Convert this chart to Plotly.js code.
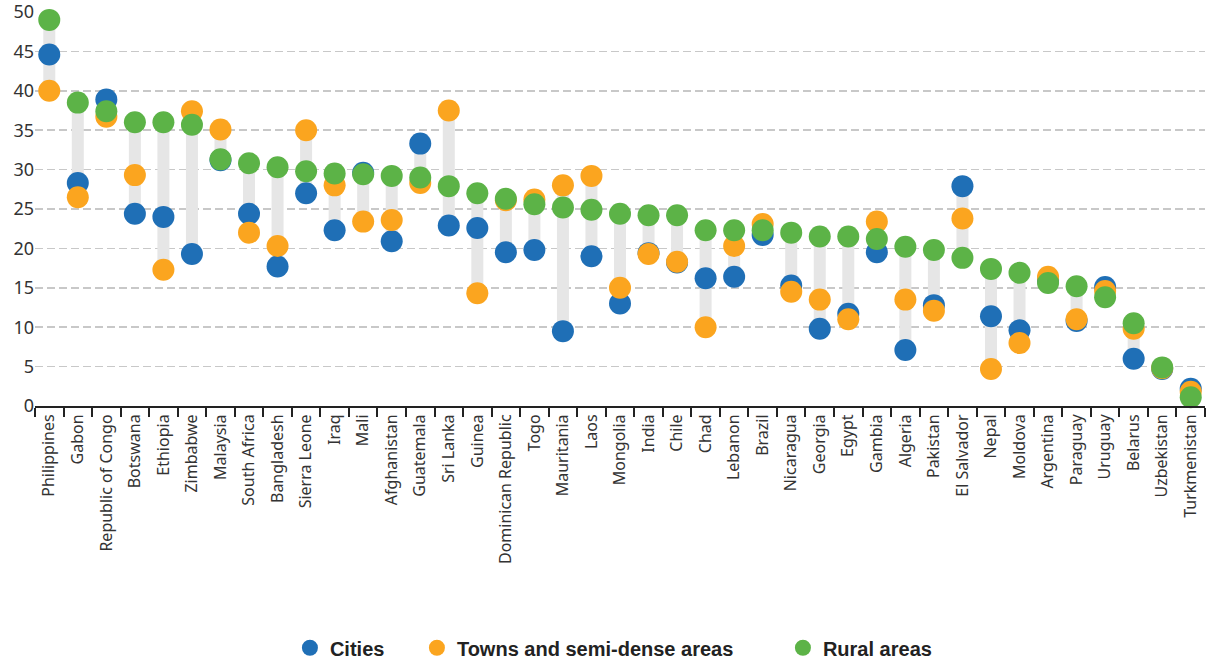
<!DOCTYPE html>
<html>
<head>
<meta charset="utf-8">
<script src="https://cdn.plot.ly/plotly-3.0.1.min.js"></script>
<style>html,body{margin:0;padding:0;background:#fff;}#chart{width:1208px;height:661px;}</style>
</head>
<body>
<div id="chart"></div>
<script>
const countries = ["Philippines","Gabon","Republic of Congo","Botswana","Ethiopia","Zimbabwe","Malaysia","South Africa","Bangladesh","Sierra Leone","Iraq","Mali","Afghanistan","Guatemala","Sri Lanka","Guinea","Dominican Republic","Togo","Mauritania","Laos","Mongolia","India","Chile","Chad","Lebanon","Brazil","Nicaragua","Georgia","Egypt","Gambia","Algeria","Pakistan","El Salvador","Nepal","Moldova","Argentina","Paraguay","Uruguay","Belarus","Uzbekistan","Turkmenistan"];
const cities = [44.6,28.3,38.9,24.4,24.0,19.3,31.2,24.4,17.7,27.0,22.3,29.6,20.9,33.3,22.9,22.6,19.5,19.8,9.5,19.0,13.0,19.4,18.2,16.2,16.4,21.7,15.3,9.8,11.7,19.5,7.1,12.8,27.9,11.4,9.6,16.0,10.8,15.1,6.0,4.7,2.2];
const towns = [40.0,26.5,36.7,29.3,17.3,37.4,35.1,22.0,20.3,35.0,28.0,23.4,23.6,28.3,37.5,14.3,26.1,26.2,28.0,29.2,15.0,19.3,18.3,10.0,20.3,23.1,14.5,13.5,11.0,23.4,13.5,12.1,23.8,4.7,8.0,16.4,11.0,14.6,9.8,4.8,1.8];
const rural = [49.0,38.5,37.4,36.0,36.0,35.7,31.3,30.8,30.3,29.8,29.5,29.4,29.2,29.0,27.9,27.0,26.3,25.6,25.2,24.9,24.4,24.2,24.2,22.3,22.3,22.3,22.0,21.5,21.5,21.2,20.2,19.8,18.8,17.4,16.9,15.6,15.2,13.8,10.5,4.9,1.1];
const yTicks = [0,5,10,15,20,25,30,35,40,45,50];

// connector segments from min to max for each country
const segX = [], segY = [];
countries.forEach((c, i) => {
  const v = [cities[i], towns[i], rural[i]];
  segX.push(c, c, null);
  segY.push(Math.min(...v), Math.max(...v), null);
});

const mk = (name, y, color, lw) => ({
  type: 'scatter', mode: 'markers', name: name, x: countries, y: y,
  marker: {size: 22, color: color, line: {width: 0}}, cliponaxis: false,
  legendwidth: lw
});

const data = [
  {type: 'scatter', mode: 'lines', x: segX, y: segY, showlegend: false, hoverinfo: 'skip',
   line: {color: '#e6e6e6', width: 12}, connectgaps: false, cliponaxis: false},
  mk('Cities', cities, '#1f6fb6', 82),
  mk('Towns and semi-dense areas', towns, '#fba51f', 321),
  mk('Rural areas', rural, '#5cb347', 115)
];

const layout = {
  width: 1208, height: 661,
  margin: {l: 35, r: 3, t: 12, b: 255},
  paper_bgcolor: '#fff', plot_bgcolor: '#fff',
  font: {family: 'Noto Sans, sans-serif', color: '#333', size: 16},
  xaxis: {
    type: 'category', range: [-0.5, countries.length - 0.5], tickangle: -90, tickson: 'boundaries',
    ticks: 'outside', ticklen: 9, tickwidth: 2, tickcolor: '#222',
    showline: true, linecolor: '#222', linewidth: 2,
    showgrid: false, zeroline: false, fixedrange: true, automargin: false,
    tickfont: {size: 16, color: '#333'}
  },
  yaxis: {
    range: [0, 50], tickvals: yTicks, ticktext: yTicks.map(String),
    showgrid: true, gridcolor: '#c8c8c8', griddash: '8px,4px', gridwidth: 1.6,
    zeroline: false, showline: false, ticks: '', automargin: false,
    ticklabeloverflow: 'allow',
    tickfont: {size: 18, color: '#333'}, fixedrange: true
  },
  showlegend: true,
  legend: {
    orientation: 'h', xref: 'container', x: 0.24, xanchor: 'left',
    yref: 'container', y: 0.02, yanchor: 'middle',
    font: {family: 'Liberation Sans, Arial, sans-serif', size: 20, color: '#222', weight: 'bold'},
    itemclick: false, itemdoubleclick: false
  }
};

Plotly.newPlot('chart', data, layout, {displayModeBar: false, staticPlot: true});
</script>
</body>
</html>
